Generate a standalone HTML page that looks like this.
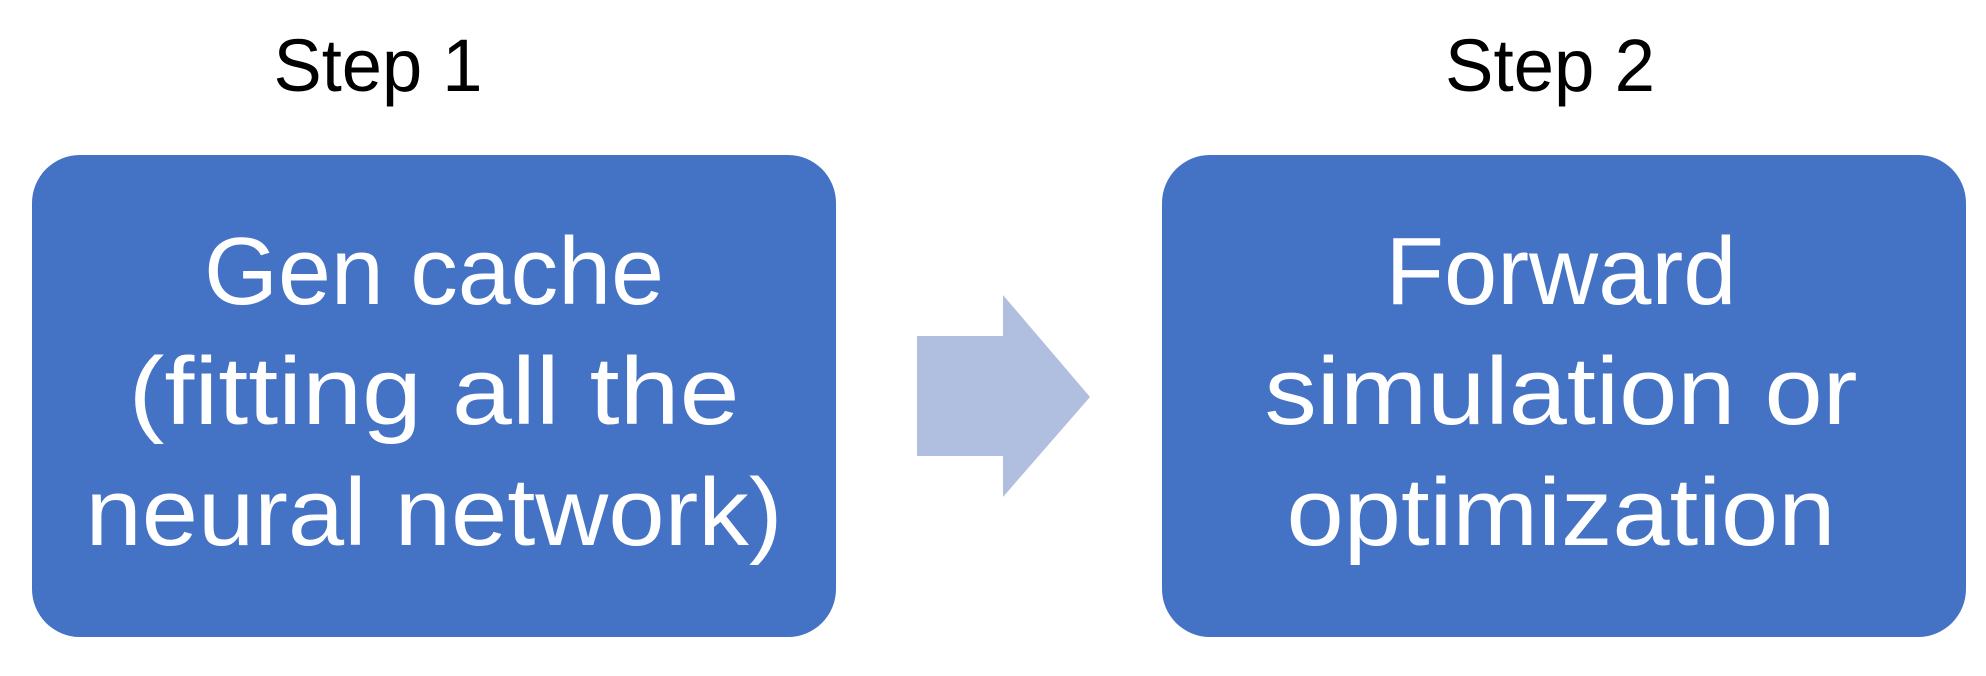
<!DOCTYPE html>
<html><head><meta charset="utf-8"><style>
html,body{margin:0;padding:0;background:#fff;}
svg{display:block;}
text{font-family:"Liberation Sans",sans-serif;}
</style></head><body>
<svg width="1986" height="676" viewBox="0 0 1986 676" xmlns="http://www.w3.org/2000/svg">
<rect x="0" y="0" width="1986" height="676" fill="#fff"/>
<text x="378" y="91" font-size="74" fill="#000" text-anchor="middle" textLength="209" lengthAdjust="spacingAndGlyphs">Step 1</text>
<text x="1550" y="91" font-size="74" fill="#000" text-anchor="middle" textLength="210" lengthAdjust="spacingAndGlyphs">Step 2</text>
<rect x="32" y="155" width="804" height="482" rx="48" ry="48" fill="#4472C4"/>
<rect x="1162" y="155" width="804" height="482" rx="48" ry="48" fill="#4472C4"/>
<polygon points="917,336 1003,336 1003,295 1090,397 1003,497 1003,456 917,456" fill="#B0BEE0"/>
<g fill="#fff" font-size="96" text-anchor="middle">
<text x="434" y="304" textLength="460" lengthAdjust="spacingAndGlyphs">Gen cache</text>
<text x="434" y="424" textLength="611" lengthAdjust="spacingAndGlyphs">(fitting all the</text>
<text x="434" y="545" textLength="697" lengthAdjust="spacingAndGlyphs">neural network)</text>
<text x="1561" y="304" textLength="351" lengthAdjust="spacingAndGlyphs">Forward</text>
<text x="1561" y="424" textLength="593" lengthAdjust="spacingAndGlyphs">simulation or</text>
<text x="1561" y="545" textLength="549" lengthAdjust="spacingAndGlyphs">optimization</text>
</g>
</svg>
</body></html>
